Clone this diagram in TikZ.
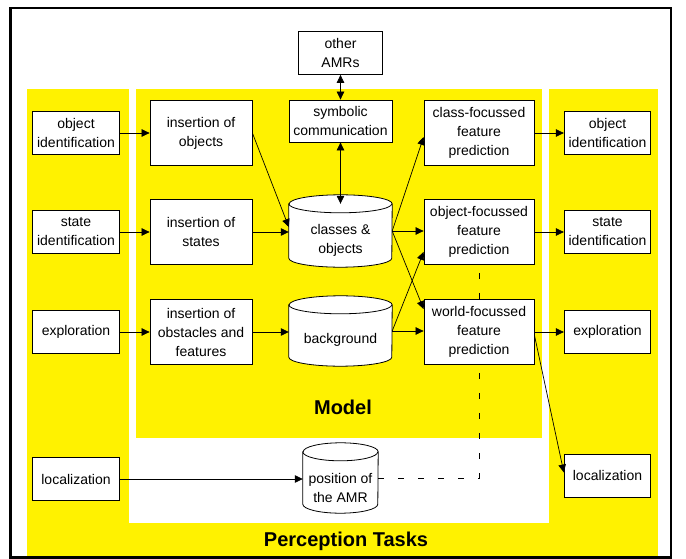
\documentclass[tikz,border=0pt]{standalone}
\usepackage{fontspec}
\setmainfont{Liberation Sans}
\usetikzlibrary{arrows.meta,calc}
\newcommand{\fsn}{\fontsize{14}{19}\selectfont}
\newcommand{\fsb}{\bfseries\fontsize{20}{23}\selectfont}
\newcommand{\cylshape}[5]{% name, cx, cy, w, h
  \path (#2,#3) node[minimum width=#4pt, minimum height=#5pt, inner sep=0pt] (#1) {};
  \draw[line width=0.8pt, fill=white] (#1.north west) -- (#1.south west)
     arc[start angle=180, end angle=360, x radius=#4pt/2, y radius=9pt]
     -- (#1.north east)
     arc[start angle=0, end angle=180, x radius=#4pt/2, y radius=9pt] -- cycle;
  \draw[line width=0.8pt] (#1.north west) arc[start angle=180, end angle=360, x radius=#4pt/2, y radius=9pt];
}
\begin{document}
\begin{tikzpicture}[x=1pt,y=-1pt,
  box/.style={draw, fill=white, align=center, inner sep=0pt, line width=0.8pt, font=\fsn},
  sbox/.style={box, minimum width=86.5pt, minimum height=43pt},
  mbox/.style={box, minimum width=102pt, minimum height=65pt},
  pbox/.style={box, minimum width=110pt, minimum height=65pt},
  txt/.style={align=center, inner sep=0pt, font=\fsn},
  arr/.style={-{Triangle[length=8pt,width=7.5pt]}, line width=0.7pt},
  darr/.style={{Triangle[length=8pt,width=7.5pt]}-{Triangle[length=8pt,width=7.5pt]}, line width=0.7pt},
  dsh/.style={line width=0.7pt, dash pattern=on 6pt off 14pt},
  title/.style={font=\fsb, inner sep=0pt}]
\useasboundingbox (0,0) rectangle (686,559);
\fill[white] (0,0) rectangle (686,559);
% regions
\fill[yellow] (27,89) rectangle (658,556);
\fill[white] (129,89) rectangle (548.5,523);
\fill[yellow] (135.5,89) rectangle (542,438);
\draw[line width=2.5pt] (10.5,8) rectangle (671,557.5);
% nodes
\node[sbox] (objL) at (76,133) {object\\identification};
\node[sbox] (stL) at (76,232) {state\\identification};
\node[sbox] (exL) at (76,332) {exploration};
\node[sbox] (loL) at (76,479) {localization};
\node[mbox] (insO) at (201,133) {insertion of\\objects};
\node[mbox] (insS) at (201,232) {insertion of\\states};
\node[mbox] (insB) at (201,332) {insertion of\\obstacles and\\features};
\node[box, minimum width=103pt, minimum height=42pt] (sym) at (340.5,121) {symbolic\\communication};
\node[box, minimum width=84pt, minimum height=43pt] (oth) at (340.5,53) {other\\AMRs};
\node[pbox] (cf) at (479,133) {class-focussed\\feature\\prediction};
\node[pbox] (of) at (479,232) {object-focussed\\feature\\prediction};
% cylinders
\cylshape{cls}{340.5}{231}{103}{54}
\node[txt] (clsT) at (340.5,240.5) {classes \&\\objects};
\cylshape{bg}{340.5}{331}{103}{52}
\node[txt] (bgT) at (340.5,340) {background};
\cylshape{pos}{340.5}{478}{75}{52}
\node[txt] (posT) at (340.5,487.5) {position of\\the AMR};
% dashed link (behind world-focussed box)
\draw[dsh] (pos.east) -| (of.south);
\node[pbox] (wf) at (479,332) {world-focussed\\feature\\prediction};
\node[sbox] (objR) at (607.5,133) {object\\identification};
\node[sbox] (stR) at (607.5,232) {state\\identification};
\node[sbox] (exR) at (607.5,332) {exploration};
\node[sbox] (loR) at (607.5,475.5) {localization};
% titles
\node[title] (model) at (343,407) {Model};
\node[title] (ptasks) at (346,541) {Perception Tasks};
% arrows
\draw[arr] (objL.east) -- (insO.west);
\draw[arr] (stL.east) -- (insS.west);
\draw[arr] (exL.east) -- (insB.west);
\draw[arr] (loL.east) -- (loL.east -| pos.west);
\draw[arr] (insO.east) -- ($(cls.west)+(0,-4)$);
\draw[arr] (insS.east) -- (insS.east -| cls.west);
\draw[arr] (insB.east) -- (insB.east -| bg.west);
\draw[darr] (sym.south) -- (cls.north);
\draw[darr] (oth.south) -- (sym.north);
\draw[arr] (cls.east) -- ($(cf.west)+(0,4)$);
\draw[arr] (cls.east) -- (cls.east -| of.west);
\draw[arr] (cls.east) -- ($(wf.north west)+(0,10)$);
\draw[arr] (bg.east) -- ($(of.south west)+(0,-13)$);
\draw[arr] (bg.east) -- (bg.east -| wf.west);
\draw[arr] (cf.east) -- (cf.east -| objR.west);
\draw[arr] (of.east) -- (of.east -| stR.west);
\draw[arr] (wf.east) -- (wf.east -| exR.west);
\draw[arr] ($(wf.east)+(0,3)$) -- ($(loR.west)+(0,-3)$);
\end{tikzpicture}
\end{document}
